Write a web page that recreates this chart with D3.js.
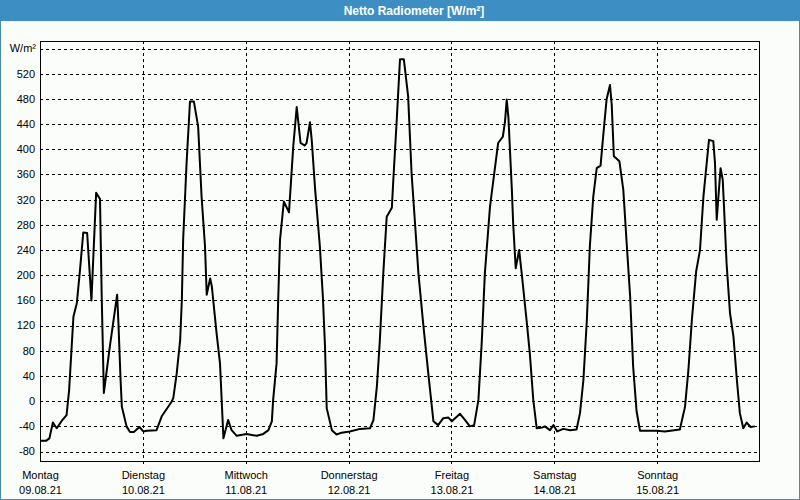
<!DOCTYPE html>
<html>
<head>
  <meta charset="utf-8">
  <title>Netto Radiometer</title>
  <style>
    body {
      margin: 0;
      padding: 0;
      background: #fff;
      overflow: hidden;
    }
    text {
      font-family: "Liberation Sans", Arial, sans-serif;
      font-size: 11px;
      fill: #000;
    }
    .title {
      font-weight: bold;
      font-size: 12px;
      fill: #fff;
    }
    .grid line {
      stroke: #000;
      stroke-width: 1;
      stroke-dasharray: 3,3;
      shape-rendering: crispEdges;
    }
  </style>
</head>
<body>
  <div id="chart"></div>

  <script src="https://d3js.org/d3.v7.min.js"></script>
  <script>
    // day labels along the x axis
    const dayNames = ['Montag', 'Dienstag', 'Mittwoch', 'Donnerstag', 'Freitag', 'Samstag', 'Sonntag'];
    const dayDates = ['09.08.21', '10.08.21', '11.08.21', '12.08.21', '13.08.21', '14.08.21', '15.08.21'];
    const yTicks = [-80, -40, 0, 40, 80, 120, 160, 200, 240, 280, 320, 360, 400, 440, 480, 520];

    // hours since 09.08.21 00:00 and net radiation (W/m²)
    const hours = [
      0.0, 1.4, 2.2, 3.0, 3.9, 5.1, 6.2, 6.8, 7.8, 8.6, 9.3, 10.1, 11.0, 12.0, 13.1, 14.0, 14.4, 14.9, 16.3, 18.0, 18.3, 18.8, 19.1, 20.2, 21.0, 21.9, 23.2,
      24.1, 24.9, 27.2, 28.4, 30.7, 31.1, 31.9, 32.7, 33.1, 33.4, 34.2, 35.0, 35.9, 36.9, 37.7, 38.5, 38.9, 39.7, 40.1, 41.2, 42.0, 42.8, 43.9, 44.7, 45.9, 48.2, 50.6, 52.1, 53.3, 54.1,
      54.4, 55.2, 55.6, 56.0, 56.9, 58.1, 59.1, 59.9, 60.8, 61.8, 62.2, 63.0, 63.4, 64.2, 65.3, 66.0, 66.5, 66.9, 68.1, 69.2, 70.4, 72.3, 74.7, 77.0, 77.8,
      78.6, 79.3, 80.1, 80.9, 82.1, 82.4, 83.2, 84.0, 84.9, 85.9, 86.7, 87.5, 88.3, 89.4, 90.6, 91.8, 92.9, 94.1, 95.3, 96.1, 98.0, 99.2, 100.3, 101.3,
      102.3, 103.1, 103.8, 105.0, 106.2, 106.9, 108.0, 108.5, 108.9, 109.3, 110.1, 110.4, 111.0, 111.8, 112.4, 113.6, 114.3, 115.1, 115.9, 117.1, 117.8, 119.0, 119.8, 120.7, 122.1, 123.7, 125.2,
      126.0, 126.8, 127.6, 128.3, 129.1, 129.9, 130.8, 131.4, 132.2, 133.0, 133.4, 133.9, 135.2, 136.1, 136.9, 137.7, 138.4, 139.2, 140.0, 143.9, 145.8, 149.3,
      150.5, 151.3, 152.1, 153.1, 154.0, 154.8, 155.4, 156.1, 157.1, 157.5, 157.9, 158.3, 158.8, 159.3, 159.6, 160.2, 161.0, 161.8, 162.6, 163.3, 164.1, 164.9, 165.8, 166.8
    ];
    const values = [
      -63, -63, -59, -34, -43, -31, -22, 18, 134, 156, 206, 268, 267, 160, 331, 321, 166, 13, 87, 169, 124, 34, -9, -40, -49, -49, -41,
      -48, -47, -46, -24, -1, 5, 44, 97, 161, 256, 378, 476, 476, 436, 325, 246, 169, 195, 182, 108, 60, -59, -30, -46, -55, -52, -55, -52, -46, -32,
      2, 60, 166, 256, 317, 300, 405, 467, 410, 406, 410, 443, 415, 336, 246, 166, 87, -11, -46, -53, -50, -48, -44, -43, -30,
      23, 97, 203, 293, 307, 346, 442, 543, 543, 484, 362, 283, 203, 124, 44, -32, -38, -27, -26, -32, -20, -30, -40, -38,
      2, 97, 203, 309, 373, 410, 420, 444, 479, 450, 336, 283, 211, 240, 203, 124, 75, 2, -43, -42, -40, -46, -38, -48, -44, -46, -45,
      -19, 34, 129, 246, 325, 370, 374, 420, 479, 502, 471, 389, 381, 336, 250, 166, 55, -16, -47, -47, -48, -45,
      -9, 50, 129, 206, 240, 325, 367, 415, 413, 378, 288, 325, 370, 352, 309, 219, 140, 103, 34, -19, -43, -34, -41, -40
    ];

    const W = 800, H = 500;
    const plotL = 40, plotR = 760, plotT = 41, plotB = 461;

    const svg = d3.select('#chart')
      .append('svg')
      .attr('width', W)
      .attr('height', H);

    // window frame + title bar
    svg.append('rect')
      .attr('x', 0.5).attr('y', 0.5)
      .attr('width', W - 1).attr('height', H - 1)
      .attr('fill', '#fbfdfb')
      .attr('stroke', '#3d8fc3');
    svg.append('rect')
      .attr('x', 0).attr('y', 0)
      .attr('width', W).attr('height', 21)
      .attr('fill', '#3d8fc3');
    svg.append('text')
      .attr('class', 'title')
      .attr('x', 414).attr('y', 14.5)
      .attr('text-anchor', 'middle')
      .text('Netto Radiometer [W/m²]');

    const x = d3.scaleLinear().domain([0, 168]).range([plotL, plotR]);
    const y = d3.scaleLinear().domain([-95, 572]).range([plotB, plotT]);

    // horizontal grid (including the unlabeled 560 line)
    svg.append('g')
      .attr('class', 'grid')
      .selectAll('line')
      .data(yTicks.concat([560]))
      .enter().append('line')
      .attr('x1', plotL).attr('x2', plotR)
      .attr('y1', d => Math.round(y(d)) + 0.5)
      .attr('y2', d => Math.round(y(d)) + 0.5);

    // vertical grid at each midnight, running a bit below the axis
    const dayStarts = dayNames.map((d, i) => i * 24);
    svg.append('g')
      .attr('class', 'grid')
      .selectAll('line')
      .data(dayStarts.slice(1))
      .enter().append('line')
      .attr('x1', d => Math.round(x(d)) + 0.5)
      .attr('x2', d => Math.round(x(d)) + 0.5)
      .attr('y1', plotT).attr('y2', plotB + 4);

    // plot frame
    svg.append('rect')
      .attr('x', plotL + 0.5).attr('y', plotT + 0.5)
      .attr('width', plotR - plotL - 1).attr('height', plotB - plotT)
      .attr('fill', 'none')
      .attr('stroke', '#000')
      .attr('shape-rendering', 'crispEdges');

    // y labels
    svg.append('g')
      .selectAll('text')
      .data(yTicks)
      .enter().append('text')
      .attr('x', 35)
      .attr('y', d => y(d))
      .attr('dy', '0.35em')
      .attr('text-anchor', 'end')
      .text(d => d);
    svg.append('text')
      .attr('x', 36).attr('y', y(560))
      .attr('dy', '0.35em')
      .attr('text-anchor', 'end')
      .text('W/m²');

    // x labels: weekday and date
    const xl = svg.append('g')
      .selectAll('g')
      .data(dayStarts)
      .enter().append('g')
      .attr('transform', d => `translate(${x(d) + 0.5},0)`);
    xl.append('text')
      .attr('y', 479)
      .attr('text-anchor', 'middle')
      .text((d, i) => dayNames[i]);
    xl.append('text')
      .attr('y', 494)
      .attr('text-anchor', 'middle')
      .text((d, i) => dayDates[i]);

    // series
    const pts = hours.map((h, i) => [h, values[i]]);
    svg.append('path')
      .datum(pts)
      .attr('fill', 'none')
      .attr('stroke', '#000')
      .attr('stroke-width', 2)
      .attr('stroke-linejoin', 'round')
      .attr('d', d3.line().x(d => x(d[0])).y(d => y(d[1])));
  </script>
</body>
</html>
